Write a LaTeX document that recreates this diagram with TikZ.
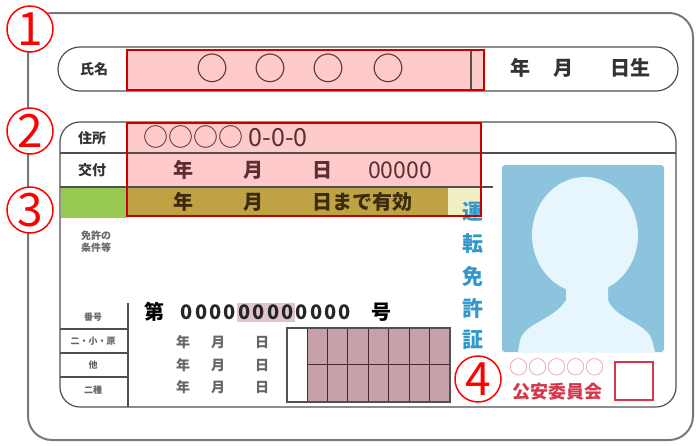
\documentclass[tikz,border=0pt]{standalone}
\usepackage{fontspec}
\newfontfamily\jp{Noto Sans CJK JP}
\usetikzlibrary{shapes}
\definecolor{cardgray}{RGB}{120,120,120}
\definecolor{framegray}{RGB}{80,80,80}
\definecolor{pinkfill}{RGB}{255,202,202}
\definecolor{olivefill}{RGB}{190,162,68}
\definecolor{paleyellow}{RGB}{242,238,196}
\definecolor{greenfill}{RGB}{150,200,82}
\definecolor{boxred}{RGB}{200,0,0}
\definecolor{maroon}{RGB}{92,45,50}
\definecolor{darkbrown}{RGB}{60,42,12}
\definecolor{photoblue}{RGB}{140,196,222}
\definecolor{facefill}{RGB}{230,246,252}
\definecolor{licblue}{RGB}{50,152,204}
\definecolor{mauve}{RGB}{200,160,170}
\definecolor{gridline}{RGB}{70,40,48}
\definecolor{sealred}{RGB}{215,55,75}
\definecolor{sealpink}{RGB}{236,150,160}
\definecolor{numred}{RGB}{255,0,0}
\tikzstyle{cardline}=[draw=cardgray,line width=2pt]
\tikzstyle{frame}=[draw=framegray,line width=1.2pt]
\tikzstyle{redbox}=[draw=boxred,line width=2pt]
\tikzstyle{cardlabel}=[font=\jp\bfseries\fontsize{14}{14}\selectfont,text=black!80,inner sep=0pt]
\tikzstyle{fieldtext}=[font=\jp\bfseries\fontsize{20}{20}\selectfont,text=maroon,inner sep=0pt]
\tikzstyle{smalltext}=[font=\jp\bfseries\fontsize{10}{12}\selectfont,text=black!60,inner sep=0pt,align=left]
\tikzstyle{datetext}=[font=\jp\bfseries\fontsize{14}{14}\selectfont,text=black!60,inner sep=0pt]
\tikzstyle{numcircle}=[circle,draw=numred,line width=1.5pt,fill=white,minimum size=46pt,inner sep=0pt]
\tikzstyle{numdigit}=[font=\jp\fontsize{46}{46}\selectfont,text=numred,inner sep=0pt]

\begin{document}
\begin{tikzpicture}[x=1pt,y=-1pt]
    \useasboundingbox (0,0) rectangle (700,445);

    % card
    \draw[cardline, fill=white, rounded corners=24pt] (28,13) rectangle (693,440);

    % name row
    \draw[frame, fill=white, rounded corners=22pt] (58,47) rectangle (678,91);
    \fill[pinkfill] (127,50) rectangle (484,90);
    \draw[frame] (471,50) -- (471,90);
    \draw[redbox] (127,50) rectangle (484,90);
    \node[cardlabel] (name) at (94,69) {氏名};
    \foreach \x/\name in {212/n1, 270/n2, 328/n3, 388/n4}
        \node[fieldtext, font=\jp\fontsize{32}{32}\selectfont] (\name) at (\x,68) {○};
    \foreach \x/\txt/\name in {520/年/by, 563/月/bm, 630/日生/bd}
        \node[fieldtext, text=black!80] (\name) at (\x,68) {\txt};

    % main frame
    \draw[frame, fill=white, rounded corners=20pt] (60,122) rectangle (676,407);
    \fill[greenfill] (61,187) rectangle (127,218);
    \fill[pinkfill] (127,123) rectangle (481,187);
    \fill[olivefill] (127,187) rectangle (448,216);
    \fill[paleyellow] (448,187) rectangle (481,216);
    \draw[frame] (60,153) -- (676,153);
    \draw[frame] (60,187) -- (493,187);
    \draw[frame] (127,122) -- (127,187);

    \node[cardlabel] (addr) at (92,138) {住所};
    \node[cardlabel] (issue) at (92,170) {交付};
    \node[fieldtext, font=\jp\fontsize{25}{25}\selectfont, anchor=west] (addrtext) at (143,137) {○○○○ 0-0-0};
    \foreach \x/\txt/\name in {183/年/iy, 253/月/im, 322/日/id}
        \node[fieldtext] (\name) at (\x,170) {\txt};
    \node[fieldtext, font=\jp\fontsize{23}{23}\selectfont] (ino) at (400,170) {00000};
    \foreach \x/\txt/\name in {183/年/vy, 253/月/vm}
        \node[fieldtext, text=darkbrown] (\name) at (\x,202) {\txt};
    \node[fieldtext, text=darkbrown, anchor=west] (vd) at (312,202) {日まで有効};

    \node[smalltext] (cond) at (96,242) {免許の\\条件等};

    % lower left table
    \draw[frame] (128,303) -- (128,407);
    \foreach \y in {329,353,377}
        \draw[frame] (60,\y) -- (128,\y);
    \foreach \y/\txt/\name in {317/番号/kno, 341/二・小・原/k1, 365/他/k2, 390/二種/k3}
        \node[smalltext, font=\jp\bfseries\fontsize{9}{9}\selectfont] (\name) at (93,\y) {\txt};

    % license number
    \fill[mauve!60] (237,303) rectangle (295,322);
    \node[fieldtext, text=black] (dai) at (154,312) {第};
    \foreach \i in {0,...,11}
        \node[fieldtext, text=black!85] (z\i) at (187+14.36*\i,312) {0};
    \node[fieldtext, text=black] (go) at (381,312) {号};
    \foreach \y/\r in {342/a, 365/b, 387/c}
        \foreach \x/\txt in {183/年, 218/月, 262/日}
            \node[datetext] (d\r\x) at (\x,\y) {\txt};

    % grid
    \draw[frame, fill=white] (287,328) rectangle (450,402);
    \fill[mauve] (307,328) rectangle (450,402);
    \foreach \k in {0,...,7}
        \draw[gridline, line width=1pt] (307+20.43*\k,328) -- (307+20.43*\k,402);
    \draw[gridline, line width=1pt] (307,364) -- (450,364);
    \draw[frame] (287,328) rectangle (450,402);

    % photo
    \fill[photoblue, rounded corners=3pt] (502,165) rectangle (664,352);
    \fill[facefill] (585,235) ellipse [x radius=53, y radius=58];
    \fill[facefill] (566,280) -- (566,300) .. controls (554,320) and (526,322) .. (520,340)
        -- (518,352) -- (655,352) -- (652,340) .. controls (646,322) and (616,320) .. (608,300)
        -- (608,280) -- cycle;

    \foreach \y/\c/\name in {212/運/u1, 244/転/u2, 276/免/u3, 308/許/u4, 340/証/u5}
        \node[fieldtext, text=licblue, font=\jp\bfseries\fontsize{21}{21}\selectfont] (\name) at (473,\y) {\c};

    % seal
    \node[fieldtext, text=sealpink, font=\jp\fontsize{19}{19}\selectfont] (sealo) at (557,367) {○○○○○};
    \node[fieldtext, text=sealred, font=\jp\bfseries\fontsize{18}{18}\selectfont] (seal) at (557,392) {公安委員会};
    \draw[draw=sealred, line width=1.5pt] (615,362) rectangle (653,400);

    \draw[redbox] (127,123) rectangle (481,216);

    % numbers
    \foreach \x/\y/\n in {30/29/1, 30/131/2, 30/210/3, 478/379/4} {
        \node[numcircle] (c\n) at (\x,\y) {};
        \node[numdigit] (t\n) at (c\n) {\n};
    }
\end{tikzpicture}
\end{document}
